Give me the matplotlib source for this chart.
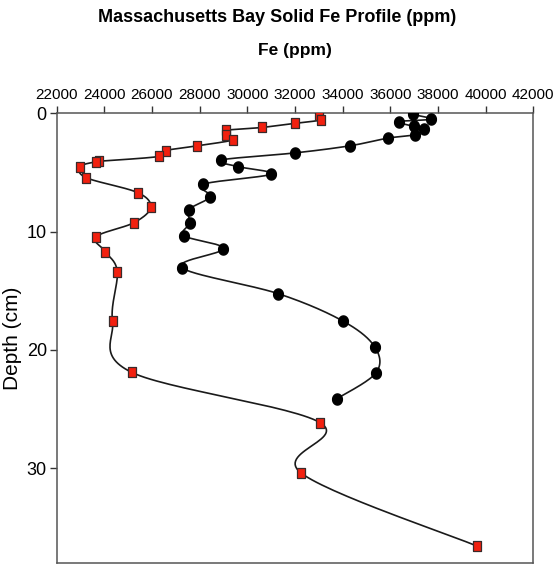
import numpy as np
import matplotlib.pyplot as plt

plt.rcParams['font.family'] = ['Liberation Sans', 'DejaVu Sans']

# Solid Fe (ppm) against depth (cm), two cores
fe_red = [33000, 33100, 32000, 30600, 29100, 29100, 29400, 27900, 26600, 26300,
          23800, 23650, 23000, 23250, 25400, 25950, 25250, 23650, 24050, 24550,
          24350, 25150, 33050, 32250, 39650]
depth_red = [0.15, 0.55, 0.85, 1.2, 1.45, 1.85, 2.25, 2.75, 3.15, 3.65,
             4.05, 4.1, 4.5, 5.45, 6.7, 7.95, 9.25, 10.45, 11.7, 13.4,
             17.6, 21.9, 26.15, 30.4, 36.6]

fe_black = [36950, 37700, 36350, 36980, 37400, 37050, 35900, 34300, 32000, 28900,
            29600, 31000, 28150, 28450, 27550, 27600, 27350, 29000, 27250, 31300,
            34000, 35350, 35400, 33750]
depth_black = [0.1, 0.5, 0.7, 1.1, 1.3, 1.8, 2.1, 2.75, 3.35, 3.95,
               4.5, 5.15, 6.0, 7.05, 8.15, 9.25, 10.35, 11.45, 13.05, 15.25,
               17.55, 19.75, 21.95, 24.15]

xlim = (22000, 42000)
ylim = (38, 0)
W, H = 555, 565
ax_box = [56.5 / W, 1 - 562.7 / H, (533.3 - 56.5) / W, (562.7 - 113.3) / H]


def smooth(xs, ys, n=30):
    # Catmull-Rom through the points, worked out in pixel space so the bends look even
    sx = ax_box[2] * W / (xlim[1] - xlim[0])
    sy = ax_box[3] * H / (ylim[0] - ylim[1])
    p = np.column_stack([np.asarray(xs) * sx, np.asarray(ys) * sy])
    p = np.vstack([p[0], p, p[-1]])
    out = []
    t = np.linspace(0, 1, n)[:, None]
    for i in range(1, len(p) - 2):
        p0, p1, p2, p3 = p[i - 1], p[i], p[i + 1], p[i + 2]
        c = 0.5 * ((2 * p1) + (-p0 + p2) * t + (2 * p0 - 5 * p1 + 4 * p2 - p3) * t ** 2
                   + (-p0 + 3 * p1 - 3 * p2 + p3) * t ** 3)
        out.append(c)
    c = np.vstack(out)
    return c[:, 0] / sx, c[:, 1] / sy


# markers are a touch taller than wide
tall_square = [(-0.85, -1), (0.85, -1), (0.85, 1), (-0.85, 1), (-0.85, -1)]
th = np.linspace(0, 2 * np.pi, 40)
tall_dot = list(zip(0.88 * np.cos(th), np.sin(th)))

fig = plt.figure(figsize=(W / 100, H / 100), dpi=100)
ax = fig.add_axes(ax_box)

for fe, d in [(fe_red, depth_red), (fe_black, depth_black)]:
    sx_, sy_ = smooth(fe, d)
    ax.plot(sx_, sy_, color='#1a1a1a', lw=1.2, zorder=2)

ax.plot(fe_black, depth_black, marker=tall_dot, color='black', markersize=8, ls='none', zorder=3)
ax.plot(fe_red, depth_red, marker=tall_square, markerfacecolor='#f2200f', markeredgecolor='#3a2a2a',
        markeredgewidth=0.9, markersize=7, ls='none', zorder=4)

ax.set_xlim(*xlim)
ax.set_ylim(*ylim)
ax.set_xticks(np.arange(22000, 42001, 2000))
ax.set_yticks([0, 10, 20, 30])
ax.xaxis.tick_top()
ax.xaxis.set_label_position('top')
ax.tick_params(axis='x', direction='out', length=5, width=1, colors='#333333',
               labelsize=11, labelcolor='black', pad=3)
ax.tick_params(axis='y', direction='out', length=5, width=1, colors='#333333',
               labelsize=13, labelcolor='black', pad=2)
for s in ax.spines.values():
    s.set_color('#555555')
    s.set_linewidth(1.1)

ax.set_xlabel('Fe (ppm)', fontsize=12.5, fontweight='bold', labelpad=24)
ax.set_ylabel('Depth (cm)', fontsize=15)
ax.yaxis.set_label_coords(-0.072, 0.5)
fig.text(0.5, 1 - 18 / H, 'Massachusetts Bay Solid Fe Profile (ppm)', ha='center', va='center',
         fontsize=13, fontweight='bold')

fig.savefig('out.png', dpi=100)
